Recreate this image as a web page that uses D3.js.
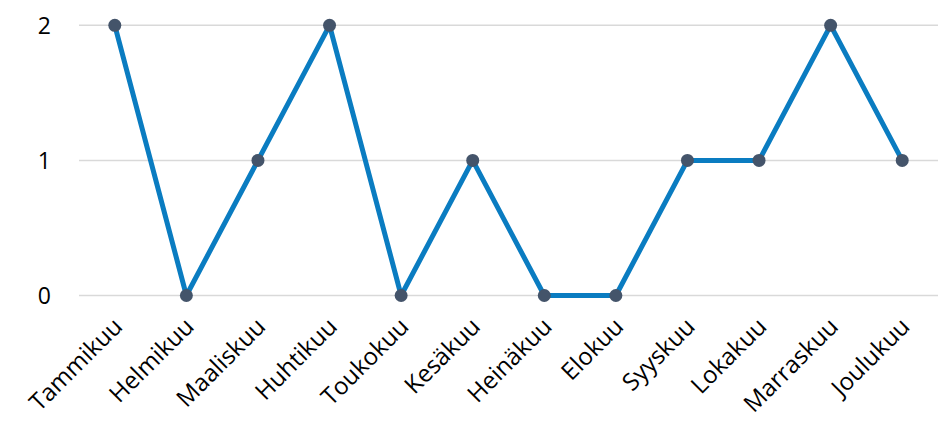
<!DOCTYPE html>
<html>
<head>
<meta charset="utf-8">
<script src="https://cdn.jsdelivr.net/npm/d3@7"></script>
<style>
  body { margin: 0; background: #fff; }
  text { font-family: "Open Sans", sans-serif; }
</style>
</head>
<body>
<div id="chart"></div>
<script>
var width = 943,
    height = 424;

var months = ["Tammikuu", "Helmikuu", "Maaliskuu", "Huhtikuu", "Toukokuu", "Kesäkuu",
              "Heinäkuu", "Elokuu", "Syyskuu", "Lokakuu", "Marraskuu", "Joulukuu"];
var counts = [2, 0, 1, 2, 0, 1, 0, 0, 1, 1, 2, 1];
var yTicks = [0, 1, 2];

var svg = d3.select("#chart")
    .append("svg")
    .attr("width", width)
    .attr("height", height);

var x = d3.scaleBand()
    .domain(months)
    .range([79, 938]);

var y = d3.scaleLinear()
    .domain([0, 2])
    .range([295.5, 25.3]);

// gridlines
svg.append("g")
    .selectAll("line")
    .data(yTicks)
    .enter().append("line")
    .attr("x1", 79)
    .attr("x2", 938)
    .attr("y1", function (d) { return y(d); })
    .attr("y2", function (d) { return y(d); })
    .attr("stroke", "#d9d9d9")
    .attr("stroke-width", 1.5);

// y labels
svg.append("g")
    .selectAll("text")
    .data(yTicks)
    .enter().append("text")
    .attr("x", 51)
    .attr("y", function (d) { return y(d); })
    .attr("dy", "0.36em")
    .attr("text-anchor", "end")
    .attr("font-size", 23)
    .attr("fill", "#000")
    .text(function (d) { return d; });

// x labels
svg.append("g")
    .selectAll("text")
    .data(months)
    .enter().append("text")
    .attr("transform", function (d) {
        return "translate(" + (x(d) + x.bandwidth() / 2 + 9) + ",328) rotate(-45)";
    })
    .attr("text-anchor", "end")
    .attr("font-size", 24)
    .attr("fill", "#000")
    .text(function (d) { return d; });

var line = d3.line()
    .x(function (d, i) { return x(months[i]) + x.bandwidth() / 2; })
    .y(function (d) { return y(d); });

svg.append("path")
    .datum(counts)
    .attr("d", line)
    .attr("fill", "none")
    .attr("stroke", "#0a7cc1")
    .attr("stroke-width", 5)
    .attr("stroke-linejoin", "round");

svg.append("g")
    .selectAll("circle")
    .data(counts)
    .enter().append("circle")
    .attr("cx", function (d, i) { return x(months[i]) + x.bandwidth() / 2; })
    .attr("cy", function (d) { return y(d); })
    .attr("r", 6.5)
    .attr("fill", "#44546a");
</script>
</body>
</html>
